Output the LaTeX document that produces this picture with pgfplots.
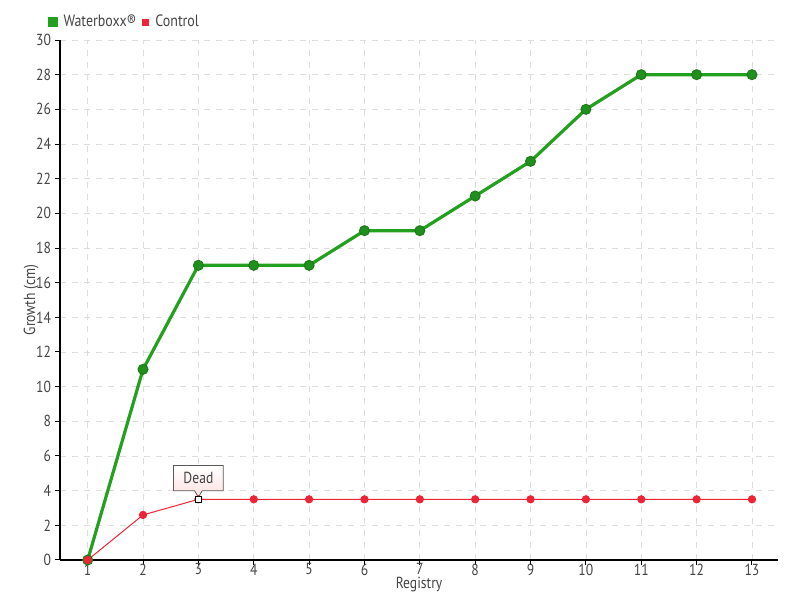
\documentclass[border=0pt]{standalone}
\usepackage{pgfplots}
\pgfplotsset{compat=1.18}
\usepackage{fontspec}
\setmainfont{PT Sans}[FakeStretch=0.85]
\definecolor{wgreen}{HTML}{22A01E}
\definecolor{wgreendark}{HTML}{1E7A1A}
\definecolor{cred}{HTML}{EE2436}
\definecolor{tickgray}{HTML}{444444}
\definecolor{gridgray}{HTML}{DDDDDD}
\begin{document}
\begin{tikzpicture}
\path[use as bounding box] (-30pt,-20pt) rectangle (370pt,280pt);
\begin{axis}[
  at={(0,0)}, anchor=south west,
  scale only axis, width=359pt, height=260pt,
  xmin=0.5, xmax=13.47, ymin=0, ymax=30,
  xtick={1,...,13}, ytick={0,2,...,30},
  axis x line*=bottom, axis y line*=left,
  axis line style={black, line width=0.6pt, -},
  tick style={black, line width=0.5pt},
  major tick length=2.5pt,
  tick align=outside,
  grid=major,
  major grid style={gridgray, dashed, line width=0.4pt},
  tick label style={font=\fontsize{8}{8}\selectfont, text=tickgray},
  xticklabel style={inner sep=1pt, yshift=1.8pt},
  yticklabel style={xshift=1.5pt},
  /pgf/number format/assume math mode=true,
  xlabel={Registry}, ylabel={Growth (cm)},
  label style={font=\fontsize{8}{8}\selectfont, text=tickgray, inner sep=1pt},
  xlabel style={at={(axis description cs:0.5,-0.047)}, anchor=center},
  ylabel style={at={(axis description cs:-0.04,0.5)}, anchor=center, rotate=0},
  legend style={at={(axis description cs:0,1)}, anchor=west, xshift=-6pt, yshift=9pt,
    draw=none, fill=none, font=\fontsize{8.2}{8}\selectfont, text=tickgray,
    legend columns=-1, column sep=1pt, inner sep=0pt},
  legend image code/.code={\fill[#1] (0pt,-1.5pt) rectangle (3pt,1.5pt);},
  clip=false,
]
\addplot[wgreen, line width=1.6pt, mark=*, mark size=2.5pt,
  mark options={fill=wgreen!90!black, draw=wgreendark, line width=0.5pt}]
  coordinates {(1,0)(2,11)(3,17)(4,17)(5,17)(6,19)(7,19)(8,21)(9,23)(10,26)(11,28)(12,28)(13,28)};
\addlegendentry{Waterboxx®}
\addplot[cred, line width=0.5pt, mark=*, mark size=1.8pt,
  mark options={fill=cred, draw=cred}]
  coordinates {(1,0)(2,2.6)(3,3.5)(4,3.5)(5,3.5)(6,3.5)(7,3.5)(8,3.5)(9,3.5)(10,3.5)(11,3.5)(12,3.5)(13,3.5)};
\addlegendentry{Control}
\addplot[only marks, mark=square*, mark size=1.4pt, mark options={fill=white, draw=black, line width=0.6pt}, forget plot]
  coordinates {(3,3.5)};
\draw[gray!70!black, line width=0.4pt, top color=white, bottom color=red!12]
  (axis cs:2.78,4.0) -- (axis cs:2.93,4.0) -- (axis cs:3,3.62) -- (axis cs:3.07,4.0) -- (axis cs:3.45,4.0)
  -- (axis cs:3.45,5.45) -- (axis cs:2.55,5.45) -- (axis cs:2.55,4.0) -- cycle;
\node[font=\fontsize{8}{8}\selectfont, text=tickgray] at (axis cs:3,4.73) {Dead};
\end{axis}
\end{tikzpicture}
\end{document}
